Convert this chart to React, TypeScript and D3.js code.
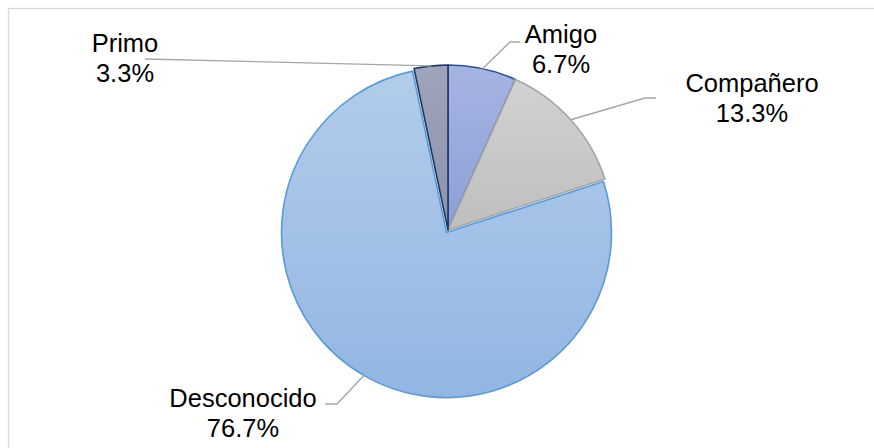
import React from "react";
import * as d3 from "d3";

const categories = ["Amigo", "Compañero", "Desconocido", "Primo"];
const values = [6.7, 13.3, 76.7, 3.3];
const valueLabels = ["6.7%", "13.3%", "76.7%", "3.3%"];
const fillTop = ["#a6b4e2", "#d2d2d2", "#b2cceb", "#9ea4b9"];
const fillBottom = ["#8c9fd8", "#bebebe", "#92b6e2", "#8b92ab"];
const strokes = ["#2f4f93", "#a5a5a5", "#5b9bd5", "#1f3864"];

const W = 874;
const H = 448;
const cx = 448;
const cy = 230;
const R = 165;
const explode = [0, 0, 3, 0];

// label anchor positions (centre of text block, first baseline) and leader line geometry
const labelPos = [
  { x: 561, y: 43 },
  { x: 752, y: 92 },
  { x: 243, y: 407 },
  { x: 125, y: 52 },
];
const leaderKnee = [
  { hx: [510, 520], y: 42 },
  { hx: [645, 656], y: 98 },
  { hx: [325, 337], y: 404 },
  { hx: [145, 145], y: 59 },
];

export default function App() {
  const pie = d3
    .pie<number>()
    .sort(null)
    .startAngle(0)
    .endAngle(2 * Math.PI)
    .value((d) => d);
  const arcs = pie(values);
  const arc = d3.arc<d3.PieArcDatum<number>>().innerRadius(0).outerRadius(R);
  const fontSize = 25.5;

  return (
    <svg
      width={W}
      height={H}
      style={{ position: "absolute", left: 0, top: 0, background: "#fff" }}
    >
      <defs>
        {categories.map((c, i) => (
          <linearGradient key={c} id={`g${i}`} x1="0" y1="0" x2="0" y2="1">
            <stop offset="0%" stopColor={fillTop[i]} />
            <stop offset="100%" stopColor={fillBottom[i]} />
          </linearGradient>
        ))}
      </defs>
      <rect x={8.5} y={8.5} width={900} height={500} fill="#fff" stroke="#d9d9d9" strokeWidth={1.3} />
      {arcs.map((a, i) => {
        const mid = (a.startAngle + a.endAngle) / 2;
        const dx = Math.sin(mid) * explode[i];
        const dy = -Math.cos(mid) * explode[i];
        return (
          <path
            key={categories[i]}
            d={arc(a) || ""}
            transform={`translate(${cx + dx},${cy + dy})`}
            fill={`url(#g${i})`}
            stroke={strokes[i]}
            strokeWidth={1.6}
            strokeLinejoin="round"
          />
        );
      })}
      {arcs.map((a, i) => {
        const mid = (a.startAngle + a.endAngle) / 2;
        const ex = explode[i];
        const px = cx + Math.sin(mid) * (ex + R);
        const py = cy - Math.cos(mid) * (ex + R);
        const k = leaderKnee[i];
        const pts =
          i === 3
            ? `${k.hx[0]},${k.y} ${px},${py}`
            : i === 2
            ? `${k.hx[0]},${k.y} ${k.hx[1]},${k.y} ${px},${py}`
            : `${k.hx[1]},${k.y} ${k.hx[0]},${k.y} ${px},${py}`;
        return (
          <polyline
            key={"l" + i}
            points={pts}
            fill="none"
            stroke="#a6a6a6"
            strokeWidth={1.4}
          />
        );
      })}
      {categories.map((c, i) => (
        <text
          key={"t" + i}
          x={labelPos[i].x}
          y={labelPos[i].y}
          textAnchor="middle"
          fontFamily="Liberation Sans, Arial, sans-serif"
          fontSize={fontSize}
          fill="#000"
        >
          <tspan x={labelPos[i].x}>{c}</tspan>
          <tspan x={labelPos[i].x} dy={30}>
            {valueLabels[i]}
          </tspan>
        </text>
      ))}
    </svg>
  );
}
